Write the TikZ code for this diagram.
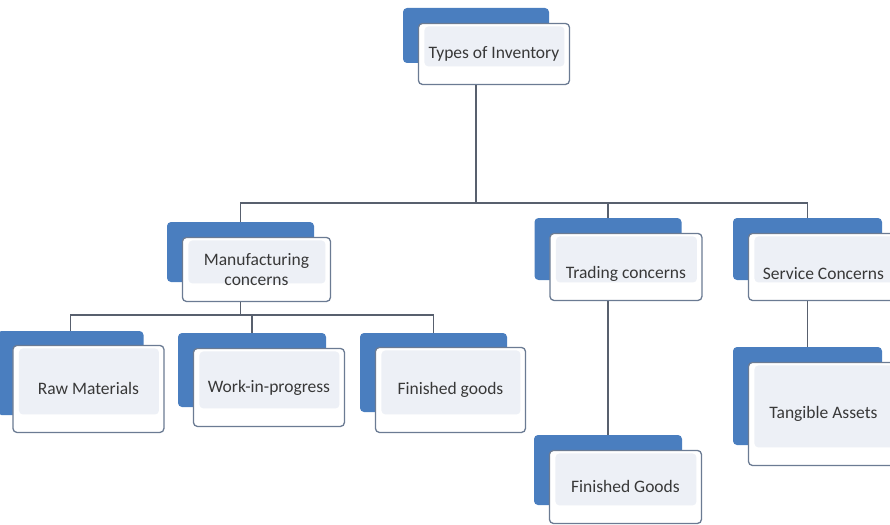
\documentclass[tikz,border=0pt]{standalone}
\usepackage{fontspec}
\setmainfont{Carlito}
\usetikzlibrary{positioning}
\definecolor{boxblue}{HTML}{4A7EBF}
\definecolor{boxline}{HTML}{6B7B93}
\definecolor{boxinner}{HTML}{EDF0F6}
\definecolor{linkgray}{HTML}{58606E}
\definecolor{textgray}{HTML}{383838}
\tikzset{
  backbox/.style={fill=boxblue, rounded corners=4pt, inner sep=0pt},
  frontbox/.style={draw=boxline, line width=1.3pt, fill=white, rounded corners=4pt, anchor=north west, align=center, inner sep=0pt, text=textgray,
    path picture={\fill[boxinner] ([shift={(6pt,-3pt)}]path picture bounding box.north west) rectangle ([shift={(-5pt,18pt)}]path picture bounding box.south east);}},
  link/.style={draw=linkgray, line width=1.6pt}
}

\begin{document}
\begin{tikzpicture}[font=\fontsize{17.5}{20}\selectfont, x=1pt, y=-1pt]
  \useasboundingbox (0,0) rectangle (890,524);
  \clip (0,0) rectangle (890,524);

  % top level
  \node[backbox, minimum width=146pt, minimum height=55pt] (typesb) at (476,35.5) {};
  \node[frontbox, minimum width=151pt, minimum height=61pt] (types) at ([shift={(15pt,-15pt)}]typesb.north west) {Types of Inventory};

  % second level
  \node[backbox, minimum width=147pt, minimum height=60pt] (manufb) at (240.5,252) {};
  \node[frontbox, minimum width=148pt, minimum height=64pt] (manuf) at ([shift={(15pt,-15pt)}]manufb.north west) {Manufacturing\\concerns};
  \node[backbox, minimum width=147pt, minimum height=62pt] (tradeb) at (608,249) {};
  \node[frontbox, minimum width=152pt, minimum height=67pt, text height=26pt] (trade) at ([shift={(15pt,-15pt)}]tradeb.north west) {Trading concerns};
  \node[backbox, minimum width=149pt, minimum height=62pt] (serviceb) at (807.5,249) {};
  \node[frontbox, minimum width=150pt, minimum height=67pt, text height=26pt] (service) at ([shift={(15pt,-15pt)}]serviceb.north west) {Service Concerns};

  % third level
  \node[backbox, minimum width=146pt, minimum height=84pt] (rawb) at (70.5,373) {};
  \node[frontbox, minimum width=151pt, minimum height=87pt] (raw) at ([shift={(15pt,-14pt)}]rawb.north west) {Raw Materials};
  \node[backbox, minimum width=148pt, minimum height=74pt] (wipb) at (252,370) {};
  \node[frontbox, minimum width=151pt, minimum height=78pt] (wip) at ([shift={(15pt,-15pt)}]wipb.north west) {Work-in-progress};
  \node[backbox, minimum width=147pt, minimum height=79pt] (fingb) at (433.5,372.5) {};
  \node[frontbox, minimum width=150pt, minimum height=85pt] (fing) at ([shift={(15pt,-14pt)}]fingb.north west) {Finished goods};
  \node[backbox, minimum width=148pt, minimum height=70pt] (goodsb) at (608,470) {};
  \node[frontbox, minimum width=152pt, minimum height=73pt] (goods) at ([shift={(15pt,-15pt)}]goodsb.north west) {Finished Goods};
  \node[backbox, minimum width=149pt, minimum height=98pt] (tangb) at (807.5,396) {};
  \node[frontbox, minimum width=150pt, minimum height=103pt] (tang) at ([shift={(15pt,-15pt)}]tangb.north west) {Tangible Assets};

  \coordinate (bus) at (476,203);
  \coordinate (subbus) at (240.5,315);

  \draw[link] (types.south -| typesb) -- (bus);
  \draw[link] (bus) -| (manufb.north);
  \draw[link] (bus) -| (tradeb.north);
  \draw[link] (bus) -| (serviceb.north);
  \draw[link] (manuf.south -| manufb) -- (subbus);
  \draw[link] (subbus) -| (rawb.north);
  \draw[link] (subbus) -| (wipb.north);
  \draw[link] (subbus) -| (fingb.north);
  \draw[link] (trade.south -| tradeb) -- (goodsb.north);
  \draw[link] (service.south -| serviceb) -- (tangb.north);
\end{tikzpicture}
\end{document}
